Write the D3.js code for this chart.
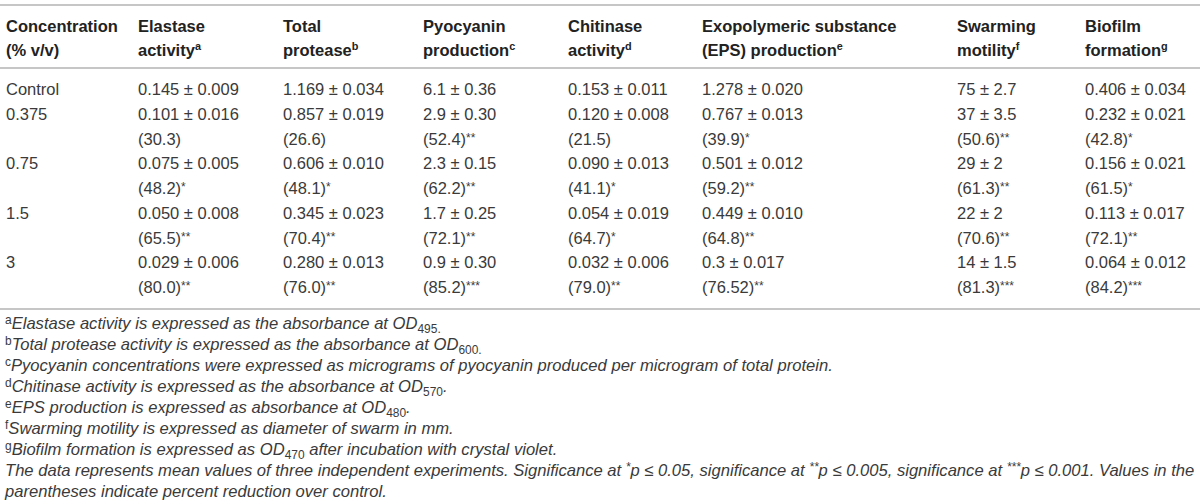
<!DOCTYPE html>
<html>
<head>
<meta charset="utf-8">
<script src="https://cdn.jsdelivr.net/npm/d3@7/dist/d3.min.js"></script>
<style>
  html, body { margin: 0; padding: 0; background: #fff; }
  svg { display: block; }
  text { font-family: "Liberation Sans", Arial, Helvetica, sans-serif; }
</style>
</head>
<body>
<svg id="chart" width="1200" height="504"></svg>
<script>
// ---------------- DATA ----------------
const concentrations = ["Control", "0.375", "0.75", "1.5", "3"];

const headerLine1 = ["Concentration", "Elastase", "Total", "Pyocyanin", "Chitinase", "Exopolymeric substance", "Swarming", "Biofilm"];
const headerLine2 = ["(% v/v)", "activity", "protease", "production", "activity", "(EPS) production", "motility", "formation"];
const headerSup   = ["", "a", "b", "c", "d", "e", "f", "g"];

const elastase      = ["0.145 ± 0.009", "0.101 ± 0.016", "0.075 ± 0.005", "0.050 ± 0.008", "0.029 ± 0.006"];
const elastaseRed   = ["", "30.3", "48.2", "65.5", "80.0"];
const elastaseSig   = ["", "", "*", "**", "**"];

const protease      = ["1.169 ± 0.034", "0.857 ± 0.019", "0.606 ± 0.010", "0.345 ± 0.023", "0.280 ± 0.013"];
const proteaseRed   = ["", "26.6", "48.1", "70.4", "76.0"];
const proteaseSig   = ["", "", "*", "**", "**"];

const pyocyanin     = ["6.1 ± 0.36", "2.9 ± 0.30", "2.3 ± 0.15", "1.7 ± 0.25", "0.9 ± 0.30"];
const pyocyaninRed  = ["", "52.4", "62.2", "72.1", "85.2"];
const pyocyaninSig  = ["", "**", "**", "**", "***"];

const chitinase     = ["0.153 ± 0.011", "0.120 ± 0.008", "0.090 ± 0.013", "0.054 ± 0.019", "0.032 ± 0.006"];
const chitinaseRed  = ["", "21.5", "41.1", "64.7", "79.0"];
const chitinaseSig  = ["", "", "*", "*", "**"];

const eps           = ["1.278 ± 0.020", "0.767 ± 0.013", "0.501 ± 0.012", "0.449 ± 0.010", "0.3 ± 0.017"];
const epsRed        = ["", "39.9", "59.2", "64.8", "76.52"];
const epsSig        = ["", "*", "**", "**", "**"];

const swarming      = ["75 ± 2.7", "37 ± 3.5", "29 ± 2", "22 ± 2", "14 ± 1.5"];
const swarmingRed   = ["", "50.6", "61.3", "70.6", "81.3"];
const swarmingSig   = ["", "**", "**", "**", "***"];

const biofilm       = ["0.406 ± 0.034", "0.232 ± 0.021", "0.156 ± 0.021", "0.113 ± 0.017", "0.064 ± 0.012"];
const biofilmRed    = ["", "42.8", "61.5", "72.1", "84.2"];
const biofilmSig    = ["", "*", "*", "**", "***"];

const footnoteMarks = ["a", "b", "c", "d", "e", "f", "g"];
const footnoteTexts = [
  [["Elastase activity is expressed as the absorbance at OD"], ["495", "sub"], [".", "sub"]],
  [["Total protease activity is expressed as the absorbance at OD"], ["600", "sub"], [".", "sub"]],
  [["Pyocyanin concentrations were expressed as micrograms of pyocyanin produced per microgram of total protein."]],
  [["Chitinase activity is expressed as the absorbance at OD"], ["570", "sub"], ["."]],
  [["EPS production is expressed as absorbance at OD"], ["480", "sub"], ["."]],
  [["Swarming motility is expressed as diameter of swarm in mm."]],
  [["Biofilm formation is expressed as OD"], ["470", "sub"], [" after incubation with crystal violet."]]
];
const noteLines = [
  [["The data represents mean values of three independent experiments. Significance at "], ["*", "sup"], ["p ≤ 0.05, significance at "], ["**", "sup"], ["p ≤ 0.005, significance at "], ["***", "sup"], ["p ≤ 0.001. Values in the"]],
  [["parentheses indicate percent reduction over control."]]
];

// ---------------- LAYOUT ----------------
const columns = ["conc", "elastase", "protease", "pyocyanin", "chitinase", "eps", "swarming", "biofilm"];
const seriesValues = [elastase, protease, pyocyanin, chitinase, eps, swarming, biofilm];
const seriesRed    = [elastaseRed, proteaseRed, pyocyaninRed, chitinaseRed, epsRed, swarmingRed, biofilmRed];
const seriesSig    = [elastaseSig, proteaseSig, pyocyaninSig, chitinaseSig, epsSig, swarmingSig, biofilmSig];

const W = 1200, H = 504;
const svg = d3.select("#chart");
svg.append("rect").attr("width", W).attr("height", H).attr("fill", "#fff");

const x = d3.scaleOrdinal().domain(columns).range([6, 138, 283, 423, 568, 702, 957, 1085]);

const bodyLine = d3.scaleLinear().domain([0, 8]).range([95, 293]);
const headY = d3.scaleLinear().domain([0, 1]).range([32, 56]);
const noteY = d3.scaleLinear().domain([0, 8]).range([329, 497]);

const ruleColor = "#c6c6c6";
const textColor = "#3a3a3a";
const HEAD_FS = 16.5, BODY_FS = 16.5, NOTE_FS = 16.6;

function rule(y) {
  svg.append("line").attr("x1", 0).attr("x2", W).attr("y1", y).attr("y2", y)
    .attr("stroke", ruleColor).attr("stroke-width", 2);
}
rule(5); rule(68); rule(309);

// header
const head = svg.append("g").attr("font-weight", "bold").attr("font-size", HEAD_FS).attr("fill", "#222");
columns.forEach((c, i) => {
  head.append("text").attr("x", x(c)).attr("y", headY(0)).text(headerLine1[i]);
  const t = head.append("text").attr("x", x(c)).attr("y", headY(1));
  t.append("tspan").text(headerLine2[i]);
  if (headerSup[i]) {
    t.append("tspan").attr("dy", -6).attr("font-size", HEAD_FS * 0.66).text(headerSup[i]);
  }
});

// body
const body = svg.append("g").attr("font-size", BODY_FS).attr("fill", textColor);
concentrations.forEach((conc, r) => {
  const line = r === 0 ? 0 : 2 * r - 1;
  body.append("text").attr("x", x("conc")).attr("y", bodyLine(line)).text(conc);
  seriesValues.forEach((vals, s) => {
    const col = columns[s + 1];
    body.append("text").attr("x", x(col)).attr("y", bodyLine(line)).text(vals[r]);
    if (seriesRed[s][r]) {
      const t = body.append("text").attr("x", x(col)).attr("y", bodyLine(line + 1));
      t.append("tspan").text("(" + seriesRed[s][r] + ")");
      if (seriesSig[s][r]) {
        t.append("tspan").attr("dy", -3).attr("font-size", BODY_FS * 0.72).text(seriesSig[s][r]);
      }
    }
  });
});

// footnotes
const notes = svg.append("g").attr("font-size", NOTE_FS).attr("fill", textColor);
const SHIFT = { sub: 4, sup: -5, none: 0 };
function writeSegments(t, segs, startKind) {
  let cur = startKind || "none";
  segs.forEach(seg => {
    const txt = seg[0], kind = seg[1] || "none";
    const sp = t.append("tspan").attr("dy", SHIFT[kind] - SHIFT[cur]).text(txt);
    if (kind === "none") {
      sp.attr("font-style", "italic");
    } else {
      sp.attr("font-size", NOTE_FS * 0.72).attr("font-style", kind === "sub" ? "normal" : "italic");
    }
    cur = kind;
  });
}
footnoteMarks.forEach((m, i) => {
  const t = notes.append("text").attr("x", 5).attr("y", noteY(i));
  t.append("tspan").attr("dy", SHIFT.sup).attr("font-size", NOTE_FS * 0.72).text(m);
  writeSegments(t, footnoteTexts[i], "sup");
});
noteLines.forEach((segs, i) => {
  const t = notes.append("text").attr("x", 5).attr("y", noteY(7 + i));
  writeSegments(t, segs, "none");
});
</script>
</body>
</html>
